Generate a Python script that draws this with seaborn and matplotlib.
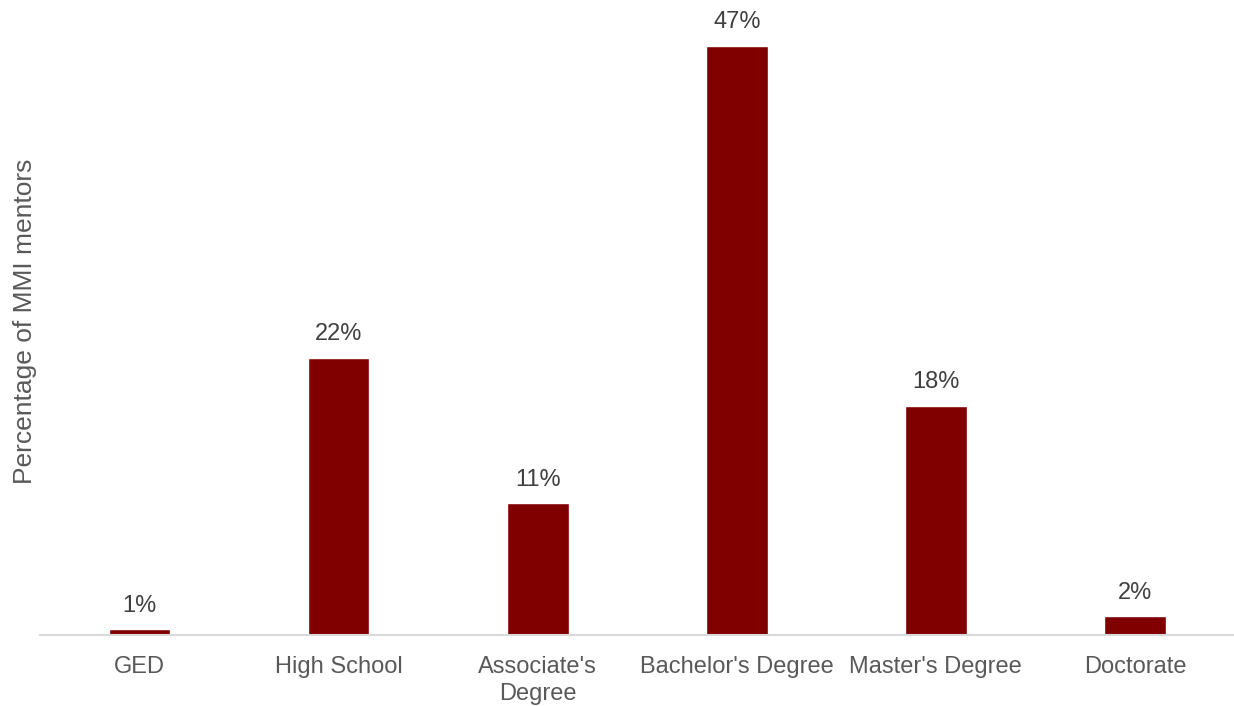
import numpy as np
import pandas as pd
import matplotlib
matplotlib.use('Agg')
import matplotlib.pyplot as plt
import seaborn as sns

# 数据
categories = ["GED", "High School", "Associate's\nDegree", "Bachelor's Degree",
              "Master's Degree", "Doctorate"]
values = [0.45, 22.1, 10.5, 47.0, 18.3, 1.5]
value_labels = ["1%", "22%", "11%", "47%", "18%", "2%"]

sns.set_style('white')
plt.rcParams['font.family'] = ['Liberation Sans', 'DejaVu Sans']

bar_color = '#800000'
text_color = '#595959'
label_color = '#404040'

df = pd.DataFrame({'category': categories, 'value': values})

fig = plt.figure(figsize=(12.34, 7.06), dpi=100)
ax = fig.add_axes([0.0324, 0.1006, 0.968, 0.888])

sns.barplot(data=df, x='category', y='value', color=bar_color, width=0.31,
            saturation=1, ax=ax)

# 数值标签
for i, (v, lab) in enumerate(zip(values, value_labels)):
    ax.annotate(lab, (i, v), xytext=(0, 9), textcoords='offset points',
                ha='center', va='bottom', fontsize=17, color=label_color)

ax.set_xlim(-0.5, 5.5)
ax.set_ylim(0, 50)
ax.set_yticks([])
ax.set_xlabel('')
ax.set_ylabel('Percentage of MMI mentors', fontsize=19, color=text_color, labelpad=2)

for s in ['top', 'right', 'left']:
    ax.spines[s].set_visible(False)
ax.spines['bottom'].set_color('#d9d9d9')
ax.spines['bottom'].set_linewidth(1.5)

ax.tick_params(axis='x', length=0, pad=15, labelsize=17, labelcolor=text_color)
for t in ax.get_xticklabels():
    t.set_linespacing(1.3)

plt.savefig('out.png', dpi=100)
plt.close(fig)
